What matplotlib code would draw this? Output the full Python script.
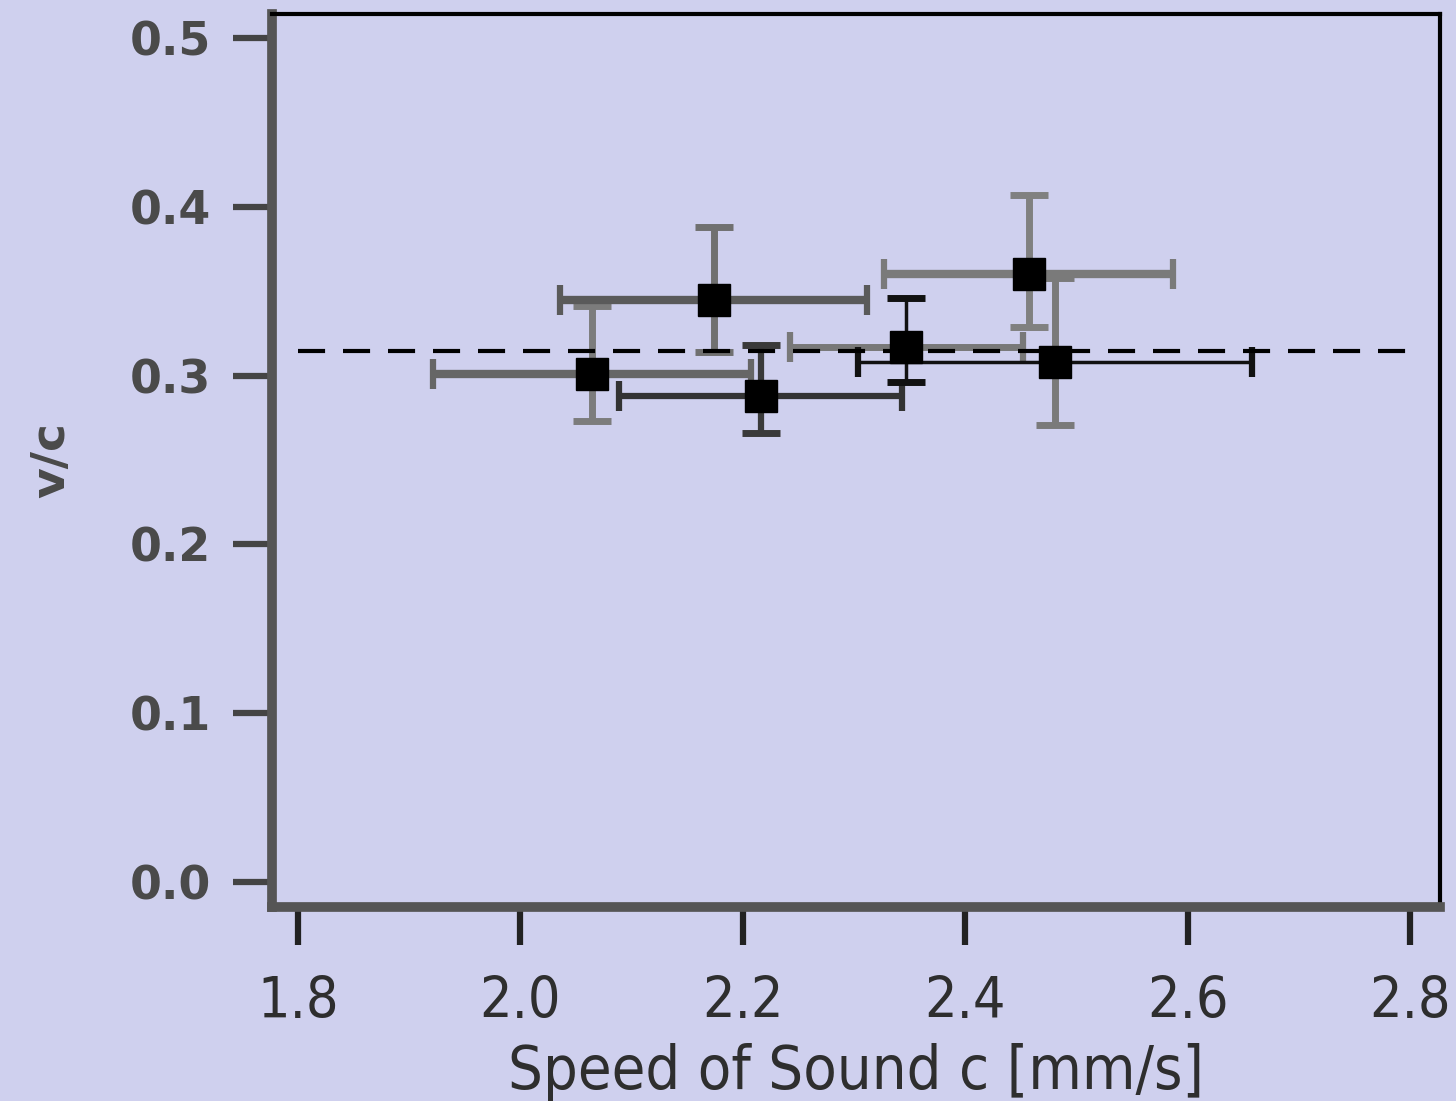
import matplotlib
matplotlib.use("Agg")
import matplotlib.pyplot as plt

# Measured speed of sound and normalised velocity, with uncertainties
speed_c = [2.064, 2.174, 2.216, 2.347, 2.457, 2.481]
speed_err = [0.143, 0.138, 0.127, 0.105, 0.130, 0.177]
v_over_c = [0.301, 0.345, 0.288, 0.317, 0.360, 0.308]
v_err_low = [0.028, 0.031, 0.022, 0.021, 0.031, 0.037]
v_err_high = [0.040, 0.043, 0.030, 0.029, 0.047, 0.050]
mean_ratio = 0.3146

x_ticks = [1.8, 2.0, 2.2, 2.4, 2.6, 2.8]
x_tick_labels = ["1.8", "2.0", "2.2", "2.4", "2.6", "2.8"]
y_ticks = [0.0, 0.1, 0.2, 0.3, 0.4, 0.5]
y_tick_labels = ["0.0", "0.1", "0.2", "0.3", "0.4", "0.5"]

bg = "#cfd0ee"
xbar_colors = ["#666666", "#5a5a5a", "#333333", "#787878", "#7a7a7a", "#111111"]
xbar_widths = [6, 6, 4.5, 5, 6, 2.5]
ybar_colors = ["#7c7c7c", "#707070", "#3a3a3a", "#111111", "#808080", "#7a7a7a"]
ybar_widths = [5, 5, 4.5, 2.5, 5, 5]

fig = plt.figure(figsize=(14.56, 11.01), dpi=100, facecolor=bg)
ax = fig.add_axes([272 / 1456, 1 - 907 / 1101, (1440 - 272) / 1456, (907 - 14) / 1101])
ax.set_facecolor(bg)

ax.set_xlim(1.7766, 2.827)
ax.set_ylim(-0.0148, 0.5142)

for i in range(len(speed_c)):
    ax.errorbar(speed_c[i], v_over_c[i], xerr=speed_err[i], fmt="none",
                ecolor=xbar_colors[i], elinewidth=xbar_widths[i],
                capsize=11, capthick=4.5, zorder=2)
    ax.errorbar(speed_c[i], v_over_c[i], yerr=[[v_err_low[i]], [v_err_high[i]]], fmt="none",
                ecolor=ybar_colors[i], elinewidth=ybar_widths[i],
                capsize=14, capthick=5, zorder=2)

# mean ratio reference line
ax.plot([1.8, 2.8], [mean_ratio, mean_ratio], ls=(0, (6.5, 4.3)), color="black",
        lw=3, zorder=2.5)

ax.plot(speed_c, v_over_c, ls="none", marker="s", ms=23, mfc="black", mec="black", zorder=3)

ax.set_xticks(x_ticks)
ax.set_xticklabels(x_tick_labels)
ax.set_yticks(y_ticks)
ax.set_yticklabels(y_tick_labels)

for lab in ax.get_xticklabels():
    lab.set_fontfamily(["DejaVu Sans"])
    lab.set_fontstretch("condensed")
    lab.set_fontsize(41)
    lab.set_color("#2e2e2e")
for lab in ax.get_yticklabels():
    lab.set_fontfamily(["DejaVu Sans"])
    lab.set_fontweight("bold")
    lab.set_fontsize(33)
    lab.set_color("#4a4a4a")

ax.tick_params(axis="y", direction="out", length=28, width=4.5, color="#444444", pad=16)
ax.tick_params(axis="x", direction="out", length=27, width=4.5, color="#222222", pad=22)

for side in ("top", "right"):
    ax.spines[side].set_color("black")
    ax.spines[side].set_linewidth(3)
for side in ("left", "bottom"):
    ax.spines[side].set_color("#555555")
    ax.spines[side].set_linewidth(7)

ax.set_xlabel("Speed of Sound c [mm/s]", fontsize=44, family=["DejaVu Sans"],
              fontstretch="condensed", color="#2e2e2e", labelpad=9)
ax.set_ylabel("v/c", fontsize=34, fontweight="bold", color="#4a4a4a", labelpad=40)

fig.savefig("out.png", dpi=100, facecolor=bg)
